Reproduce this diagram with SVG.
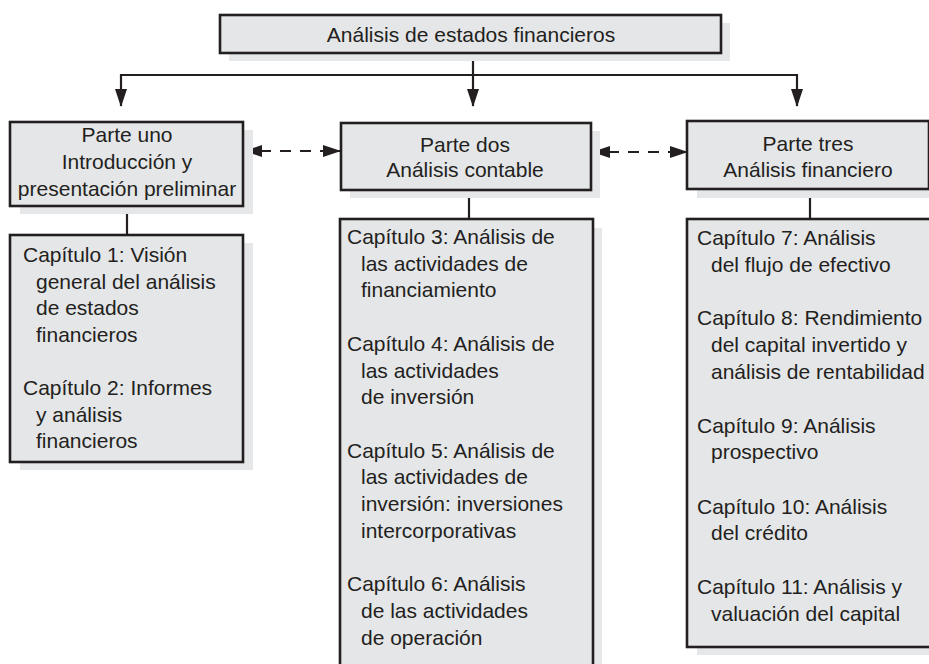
<svg xmlns="http://www.w3.org/2000/svg" width="929" height="664" viewBox="0 0 929 664">
<style>
.box{fill:#e5e6e8;stroke:#231f20;stroke-width:2.6}
.sh{fill:#e6e7e9;stroke:none}
.ln{fill:none;stroke:#231f20;stroke-width:2.2}
.dash{fill:none;stroke:#231f20;stroke-width:2.2;stroke-dasharray:26 9 11 9 11 9 30}
text{font-family:"Liberation Sans",Arial,sans-serif;font-size:21px;fill:#231f20}
.c{text-anchor:middle}
</style>
<defs>
<marker id="ah" viewBox="0 0 18 12" refX="17" refY="6" markerWidth="18" markerHeight="12" orient="auto-start-reverse" markerUnits="userSpaceOnUse">
<path d="M0,0 L18,6 L0,12 z" fill="#231f20"/>
</marker>
</defs>
<rect width="929" height="664" fill="#ffffff"/>

<g id="connectors">
<path class="ln" d="M473,53 V106" marker-end="url(#ah)"/>
<path class="ln" d="M473,75 H121 V106" marker-end="url(#ah)"/>
<path class="ln" d="M473,75 H797 V106" marker-end="url(#ah)"/>
<path class="dash" d="M245,151 H340" marker-start="url(#ah)" marker-end="url(#ah)"/>
<path class="dash" d="M593,152 H687" marker-start="url(#ah)" marker-end="url(#ah)"/>
<path class="ln" d="M127,206 V235"/>
<path class="ln" d="M469,190 V219"/>
<path class="ln" d="M810,189 V219"/>
</g>

<g id="root">
<rect class="sh" x="229" y="23" width="501" height="38"/>
<rect class="box" x="220" y="15" width="501" height="38"/>
<text class="c" x="471" y="42">Análisis de estados financieros</text>
</g>

<g id="parte-uno">
<rect class="sh" x="20" y="130" width="233" height="84"/>
<rect class="box" x="10" y="122" width="233" height="84"/>
<text class="c" x="127" y="142">Parte uno</text>
<text class="c" x="127" y="169">Introducción y</text>
<text class="c" x="127" y="196">presentación preliminar</text>
</g>

<g id="parte-dos">
<rect class="sh" x="350" y="131" width="250" height="67"/>
<rect class="box" x="341" y="123" width="250" height="67"/>
<text class="c" x="465" y="152">Parte dos</text>
<text class="c" x="465" y="177">Análisis contable</text>
</g>

<g id="parte-tres">
<rect class="sh" x="697" y="130" width="240" height="68"/>
<rect class="box" x="687" y="121" width="242" height="68"/>
<text class="c" x="808" y="151">Parte tres</text>
<text class="c" x="808" y="177">Análisis financiero</text>
</g>

<g id="capitulos-1-2">
<rect class="sh" x="20" y="243" width="233" height="227"/>
<rect class="box" x="10" y="235" width="233" height="227"/>
<text x="23" y="262">Capítulo 1: Visión</text>
<text x="36" y="288.5">general del análisis</text>
<text x="36" y="315">de estados</text>
<text x="36" y="341.5">financieros</text>
<text x="23" y="395">Capítulo 2: Informes</text>
<text x="36" y="421.5">y análisis</text>
<text x="36" y="448">financieros</text>
</g>

<g id="capitulos-3-6">
<rect class="sh" x="349" y="228" width="253" height="460"/>
<rect class="box" x="340" y="219" width="253" height="460"/>
<text x="347" y="244">Capítulo 3: Análisis de</text>
<text x="361" y="270.7">las actividades de</text>
<text x="361" y="297.4">financiamiento</text>
<text x="347" y="350.8">Capítulo 4: Análisis de</text>
<text x="361" y="377.5">las actividades</text>
<text x="361" y="404.2">de inversión</text>
<text x="347" y="457.6">Capítulo 5: Análisis de</text>
<text x="361" y="484.3">las actividades de</text>
<text x="361" y="511">inversión: inversiones</text>
<text x="361" y="537.7">intercorporativas</text>
<text x="347" y="591.1">Capítulo 6: Análisis</text>
<text x="361" y="617.8">de las actividades</text>
<text x="361" y="644.5">de operación</text>
</g>

<g id="capitulos-7-11">
<rect class="sh" x="697" y="227" width="245" height="428"/>
<rect class="box" x="687" y="219" width="255" height="428"/>
<text x="697" y="245">Capítulo 7: Análisis</text>
<text x="711" y="271.8">del flujo de efectivo</text>
<text x="697" y="325.4">Capítulo 8: Rendimiento</text>
<text x="711" y="352.2">del capital invertido y</text>
<text x="711" y="379">análisis de rentabilidad</text>
<text x="697" y="432.6">Capítulo 9: Análisis</text>
<text x="711" y="459.4">prospectivo</text>
<text x="697" y="513.5">Capítulo 10: Análisis</text>
<text x="711" y="540">del crédito</text>
<text x="697" y="594.3">Capítulo 11: Análisis y</text>
<text x="711" y="621">valuación del capital</text>
</g>
</svg>
